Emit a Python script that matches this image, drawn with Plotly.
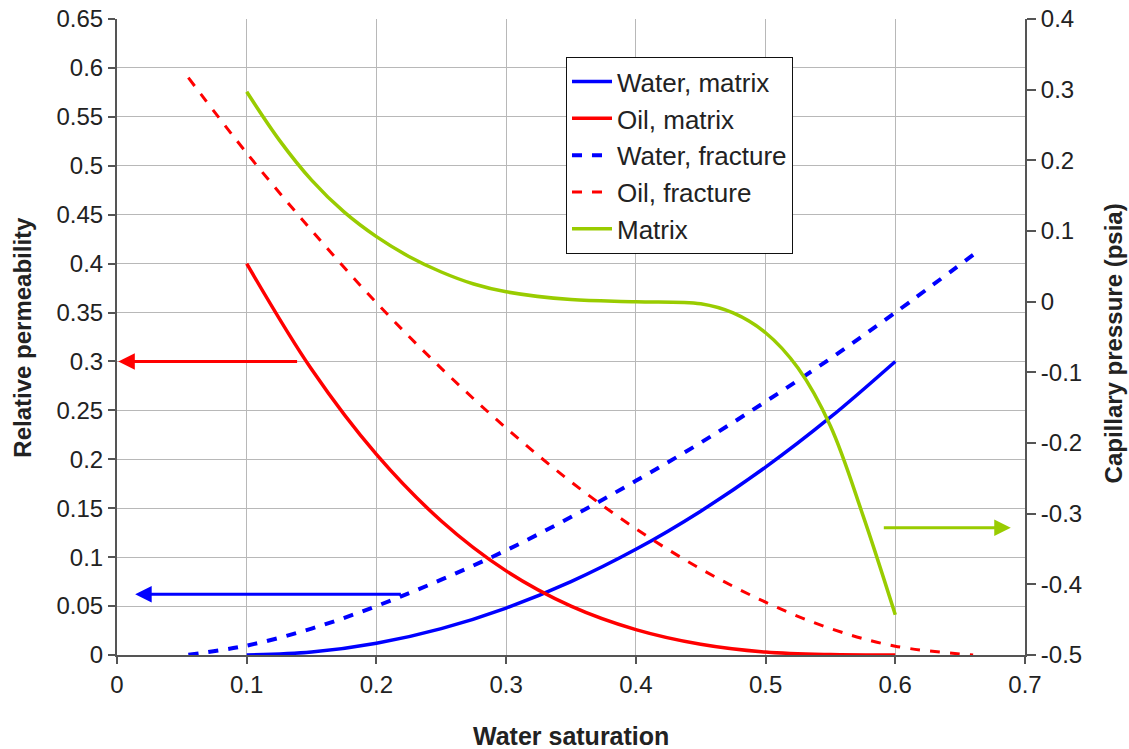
import plotly.graph_objects as go

# Matrix relative permeability curves
sw_matrix = [0.1, 0.15, 0.2, 0.25, 0.3, 0.35, 0.4, 0.45, 0.5, 0.55, 0.6]
krw_matrix = [0.0, 0.003, 0.012, 0.027, 0.048, 0.075, 0.108, 0.147, 0.192, 0.243, 0.3]
kro_matrix = [0.4, 0.292, 0.205, 0.137, 0.086, 0.05, 0.026, 0.011, 0.003, 0.0004, 0.0]

# Fracture relative permeability curves
sw_fracture = [0.055, 0.1, 0.15, 0.2, 0.25, 0.3, 0.35, 0.4, 0.45, 0.5, 0.55, 0.6, 0.66]
krw_fracture = [0.0003, 0.0096, 0.027, 0.05, 0.077, 0.107, 0.141, 0.178, 0.217, 0.259, 0.303, 0.35, 0.409]
kro_fracture = [0.59, 0.513, 0.434, 0.36, 0.293, 0.232, 0.177, 0.129, 0.088, 0.054, 0.027, 0.009, 0.0]

# Matrix capillary pressure (psia)
sw_pc = [0.1, 0.125, 0.15, 0.175, 0.2, 0.225, 0.25, 0.275, 0.3, 0.35, 0.4, 0.45, 0.475, 0.5,
         0.525, 0.55, 0.575, 0.6]
pc_matrix = [0.297, 0.229, 0.172, 0.127, 0.092, 0.064, 0.042, 0.025, 0.014, 0.003, 0.0, -0.003,
             -0.016, -0.044, -0.094, -0.176, -0.302, -0.443]

# Axis ticks
x_ticks = [0, 0.1, 0.2, 0.3, 0.4, 0.5, 0.6, 0.7]
x_labels = ["0", "0.1", "0.2", "0.3", "0.4", "0.5", "0.6", "0.7"]
kr_ticks = [0, 0.05, 0.1, 0.15, 0.2, 0.25, 0.3, 0.35, 0.4, 0.45, 0.5, 0.55, 0.6, 0.65]
kr_labels = ["0", "0.05", "0.1", "0.15", "0.2", "0.25", "0.3", "0.35", "0.4", "0.45", "0.5",
             "0.55", "0.6", "0.65"]
pc_ticks = [-0.5, -0.4, -0.3, -0.2, -0.1, 0, 0.1, 0.2, 0.3, 0.4]
pc_labels = ["-0.5", "-0.4", "-0.3", "-0.2", "-0.1", "0", "0.1", "0.2", "0.3", "0.4"]

FONT = "Arial, Liberation Sans, sans-serif"
AXIS_COLOR = "#555555"
GRID_COLOR = "#b8b8b8"
BLUE = "#0000ff"
RED = "#ff0000"
GREEN = "#99cc00"
TEXT = "#222222"

fig = go.Figure()
fig.add_trace(go.Scatter(x=sw_matrix, y=krw_matrix, mode="lines", name="Water, matrix",
                         line=dict(color=BLUE, width=3.5, shape="spline", smoothing=1)))
fig.add_trace(go.Scatter(x=sw_matrix, y=kro_matrix, mode="lines", name="Oil, matrix",
                         line=dict(color=RED, width=3.5, shape="spline", smoothing=1)))
fig.add_trace(go.Scatter(x=sw_fracture, y=krw_fracture, mode="lines", name="Water, fracture",
                         line=dict(color=BLUE, width=4, dash="10px,10px", shape="spline", smoothing=1)))
fig.add_trace(go.Scatter(x=sw_fracture, y=kro_fracture, mode="lines", name="Oil, fracture",
                         line=dict(color=RED, width=3, dash="10px,10px", shape="spline", smoothing=1)))
fig.add_trace(go.Scatter(x=sw_pc, y=pc_matrix, mode="lines", name="Matrix", yaxis="y2",
                         line=dict(color=GREEN, width=3.5, shape="spline", smoothing=1)))

# Arrows showing which axis each group of curves belongs to
arrows = [
    dict(head=(0.001, 0.3), tail=(0.14, 0.3), color=RED),
    dict(head=(0.014, 0.062), tail=(0.22, 0.062), color=BLUE),
    dict(head=(0.689, 0.13), tail=(0.59, 0.13), color=GREEN),
]
for a in arrows:
    fig.add_annotation(x=a["head"][0], y=a["head"][1], ax=a["tail"][0], ay=a["tail"][1],
                       xref="x", yref="y", axref="x", ayref="y", text="", showarrow=True,
                       arrowhead=2, arrowsize=1.1, arrowwidth=3, arrowcolor=a["color"])

# Axis titles placed as paper annotations so the plot area keeps fixed margins
title_font = dict(family=FONT, size=24, color=TEXT)
fig.add_annotation(text="<b>Water saturation</b>", xref="paper", yref="paper",
                   x=0.5, y=-0.127, xanchor="center", yanchor="middle",
                   showarrow=False, font=dict(family=FONT, size=25, color=TEXT))
fig.add_annotation(text="<b>Relative permeability</b>", xref="paper", yref="paper",
                   x=-0.105, y=0.5, xanchor="center", yanchor="middle", textangle=-90,
                   showarrow=False, font=title_font)
fig.add_annotation(text="<b>Capillary pressure (psia)</b>", xref="paper", yref="paper",
                   x=1.097, y=0.49, xanchor="center", yanchor="middle", textangle=-90,
                   showarrow=False, font=title_font)

fig.update_layout(
    width=1129, height=749,
    margin=dict(l=117, r=104, t=19, b=94, autoexpand=False),
    paper_bgcolor="white", plot_bgcolor="white",
    font=dict(family=FONT, size=25, color=TEXT),
    showlegend=True,
    legend=dict(x=0.4945, y=0.94, xanchor="left", yanchor="top",
                bgcolor="white", bordercolor="#111111", borderwidth=1,
                font=dict(family=FONT, size=26, color=TEXT),
                tracegroupgap=0, itemwidth=40),
    xaxis=dict(range=[0, 0.7], tickvals=x_ticks, ticktext=x_labels,
               showgrid=True, gridcolor=GRID_COLOR, gridwidth=1,
               showline=True, linecolor=AXIS_COLOR, linewidth=2,
               ticks="outside", ticklen=7, tickcolor=AXIS_COLOR, tickwidth=2,
               zeroline=False, tickfont=dict(size=24), automargin=False),
    yaxis=dict(range=[0, 0.65], tickvals=kr_ticks, ticktext=kr_labels,
               showgrid=True, gridcolor=GRID_COLOR, gridwidth=1,
               showline=True, linecolor=AXIS_COLOR, linewidth=2,
               ticks="outside", ticklen=7, tickcolor=AXIS_COLOR, tickwidth=2,
               zeroline=False, tickfont=dict(size=24), automargin=False),
    yaxis2=dict(range=[-0.5, 0.4], tickvals=pc_ticks, ticktext=pc_labels,
                overlaying="y", side="right", anchor="x",
                showgrid=False, showline=True, linecolor=AXIS_COLOR, linewidth=2,
                ticks="outside", ticklen=9, tickcolor=AXIS_COLOR, tickwidth=2,
                zeroline=False, tickfont=dict(size=24), automargin=False),
    # inner half of the crossing tick marks on the right axis
    yaxis3=dict(range=[-0.5, 0.4], tickvals=pc_ticks, overlaying="y", side="right", anchor="x",
                showgrid=False, showline=False, showticklabels=False,
                ticks="inside", ticklen=8, tickcolor=AXIS_COLOR, tickwidth=2, zeroline=False,
                automargin=False),
)

fig.write_html("out.html")
